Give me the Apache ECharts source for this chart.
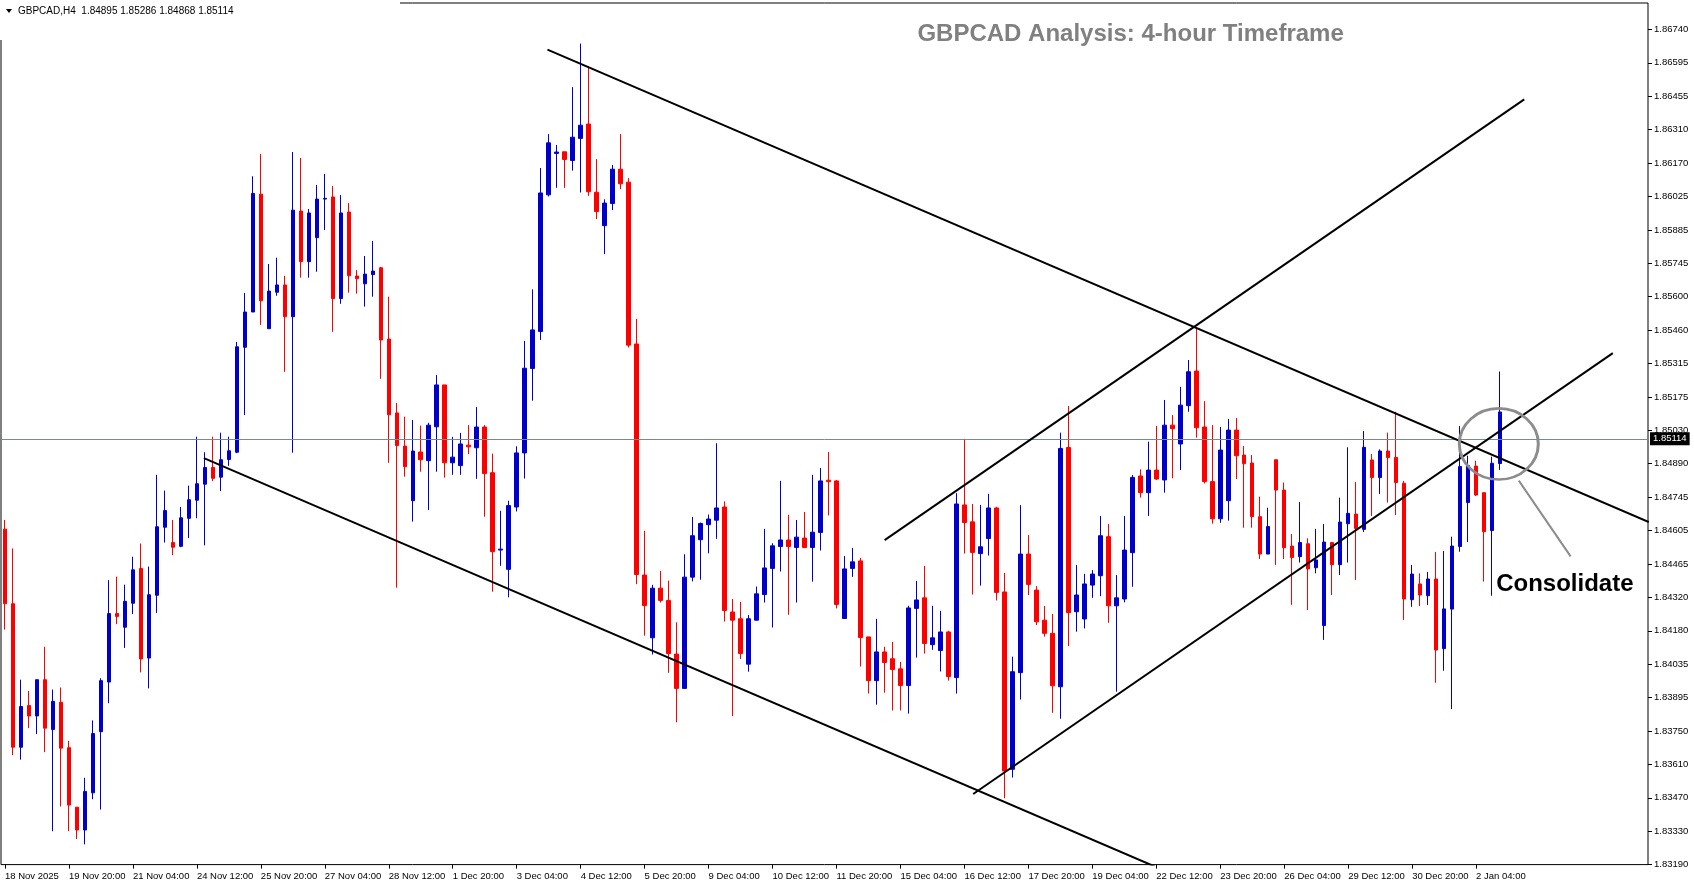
<!DOCTYPE html>
<html>
<head>
<meta charset="utf-8">
<title>GBPCAD H4</title>
<style>
html, body { margin: 0; padding: 0; background: #fff; }
#main { width: 1694px; height: 888px; }
</style>
</head>
<body>
<div id="main"></div>
<script src="https://cdn.jsdelivr.net/npm/echarts@6/dist/echarts.min.js"></script>
<script>
// H4 bars, 18 Nov 2025 12:00 .. 2 Jan 2026 16:00
var opens = [
	1.84616,1.84299,1.83689,1.83866,1.83822,1.83976,1.83764,1.83880,1.83687,1.83434,
	1.83337,1.83495,1.83755,1.83966,1.84257,1.84199,1.84301,1.84449,1.84068,1.84335,
	1.84624,1.84559,1.84543,1.84662,1.84739,1.84807,1.84878,1.84837,1.84912,1.84943,
	1.85389,1.85539,1.86040,1.85468,1.85623,1.85654,1.85519,1.85968,1.85753,1.85855,
	1.86019,1.86028,1.85596,1.85964,1.85692,1.85659,1.85698,1.85727,1.85424,1.85110,
	1.84969,1.84737,1.84944,1.84907,1.85051,1.85229,1.84898,1.84886,1.84973,1.84962,
	1.85050,1.84856,1.84527,1.84445,1.84710,1.84940,1.85299,1.85456,1.86037,1.86213,
	1.86220,1.86183,1.86277,1.86338,1.86048,1.85906,1.86000,1.86146,1.86091,1.85403,
	1.84421,1.84154,1.84365,1.84313,1.84085,1.83939,1.84412,1.84571,1.84635,1.84654,
	1.84710,1.84264,1.84235,1.84042,1.84229,1.84338,1.84449,1.84542,1.84570,1.84538,
	1.84578,1.84538,1.84602,1.84824,1.84821,1.84236,1.84449,1.84481,1.84158,1.83972,
	1.84094,1.84065,1.84022,1.83951,1.84279,1.84324,1.84125,1.84100,1.84179,1.83985,
	1.84719,1.84647,1.84512,1.84576,1.84706,1.84349,1.83595,1.84006,1.84510,1.84357,
	1.84229,1.84173,1.83946,1.84963,1.84265,1.84234,1.84378,1.84418,1.84584,1.84290,
	1.84319,1.84516,1.84842,1.84771,1.84867,1.84825,1.85058,1.84978,1.85141,1.85288,
	1.85050,1.84818,1.84660,1.84737,1.85037,1.84931,1.84897,1.84669,1.84510,1.84911,
	1.84782,1.84544,1.84499,1.84554,1.84452,1.84206,1.84559,1.84465,1.84639,1.84680,
	1.84615,1.84910,1.84835,1.84948,1.84921,1.84811,1.84316,1.84383,1.84333,1.84404,
	1.84108,1.84276,1.84542,1.84729,1.84884,1.84771,1.84610,1.84895
];
var highs = [
	1.84655,1.84534,1.83976,1.83928,1.83976,1.84116,1.83934,1.83943,1.83716,1.83434,
	1.83559,1.83803,1.83982,1.84399,1.84414,1.84380,1.84499,1.84555,1.84457,1.84847,
	1.84780,1.84655,1.84710,1.84801,1.85009,1.84943,1.85009,1.85026,1.85009,1.85412,
	1.85620,1.86116,1.86210,1.85743,1.85770,1.85693,1.86219,1.86194,1.85977,1.86079,
	1.86126,1.86074,1.86036,1.86002,1.85717,1.85777,1.85841,1.85731,1.85604,1.85152,
	1.85094,1.85080,1.85056,1.85068,1.85271,1.85229,1.85008,1.85025,1.85058,1.85135,
	1.85058,1.84937,1.84694,1.84737,1.84968,1.85416,1.85635,1.86151,1.86295,1.86249,
	1.86220,1.86495,1.86680,1.86585,1.86189,1.86018,1.86164,1.86295,1.86108,1.85510,
	1.84609,1.84379,1.84438,1.84397,1.84220,1.84509,1.84668,1.84644,1.84678,1.84981,
	1.84734,1.84319,1.84307,1.84251,1.84372,1.84617,1.84556,1.84821,1.84677,1.84655,
	1.84689,1.84847,1.84876,1.84944,1.84825,1.84502,1.84536,1.84494,1.84158,1.84235,
	1.84116,1.84137,1.84052,1.84290,1.84396,1.84460,1.84290,1.84269,1.84184,1.84769,
	1.85000,1.84723,1.84719,1.84766,1.84711,1.84430,1.84074,1.84718,1.84591,1.84374,
	1.84289,1.84255,1.85026,1.85139,1.84463,1.84426,1.84442,1.84672,1.84638,1.84421,
	1.84672,1.84846,1.84870,1.84988,1.85054,1.85165,1.85101,1.85221,1.85335,1.85469,
	1.85160,1.85058,1.85050,1.85084,1.85088,1.84969,1.84931,1.84754,1.84707,1.84911,
	1.84814,1.84595,1.84731,1.84577,1.84617,1.84638,1.84559,1.84750,1.84964,1.84816,
	1.85033,1.84935,1.84955,1.85026,1.85115,1.84821,1.84464,1.84428,1.84434,1.84519,
	1.84523,1.84584,1.85054,1.84928,1.84907,1.84771,1.84924,1.85286
];
var lows = [
	1.84189,1.83655,1.83636,1.83770,1.83745,1.83668,1.83332,1.83437,1.83332,1.83299,
	1.83276,1.83468,1.83424,1.83876,1.84212,1.84111,1.84255,1.84007,1.83939,1.84260,
	1.84559,1.84505,1.84539,1.84578,1.84662,1.84547,1.84820,1.84778,1.84885,1.84939,
	1.85101,1.85539,1.85484,1.85468,1.85608,1.85285,1.84941,1.85685,1.85685,1.85710,
	1.85887,1.85455,1.85574,1.85621,1.85617,1.85562,1.85604,1.85255,1.84898,1.84367,
	1.84839,1.84648,1.84860,1.84697,1.84860,1.84835,1.84847,1.84847,1.84935,1.84830,
	1.84669,1.84350,1.84460,1.84326,1.84691,1.84831,1.85162,1.85420,1.86030,1.86067,
	1.86067,1.86140,1.86047,1.86033,1.85934,1.85785,1.85972,1.86061,1.85388,1.84382,
	1.84163,1.84083,1.84304,1.84005,1.83795,1.83939,1.84394,1.84401,1.84513,1.84575,
	1.84223,1.83821,1.84064,1.84010,1.84228,1.84304,1.84198,1.84436,1.84252,1.84304,
	1.84535,1.84393,1.84525,1.84674,1.84279,1.84236,1.84413,1.84032,1.83917,1.83870,
	1.83921,1.83845,1.83845,1.83832,1.84070,1.84087,1.84103,1.84011,1.83972,1.83917,
	1.84512,1.84338,1.84376,1.84504,1.84313,1.83472,1.83560,1.83892,1.84336,1.84208,
	1.84159,1.83835,1.83810,1.84119,1.84180,1.84194,1.84324,1.84331,1.84218,1.83925,
	1.84305,1.84371,1.84750,1.84672,1.84825,1.84771,1.84832,1.84867,1.85115,1.85005,
	1.84810,1.84639,1.84643,1.84652,1.84829,1.84622,1.84622,1.84489,1.84510,1.84464,
	1.84489,1.84294,1.84474,1.84272,1.84428,1.84145,1.84336,1.84421,1.84474,1.84400,
	1.84604,1.84672,1.84765,1.84729,1.84676,1.84230,1.84286,1.84289,1.84294,1.83963,
	1.84014,1.83851,1.84520,1.84561,1.84757,1.84393,1.84333,1.84868
];
var closes = [
	1.84299,1.83689,1.83862,1.83822,1.83976,1.83770,1.83884,1.83685,1.83443,1.83337,
	1.83501,1.83747,1.83972,1.84257,1.84245,1.84309,1.84443,1.84064,1.84337,1.84626,
	1.84695,1.84539,1.84664,1.84741,1.84809,1.84878,1.84832,1.84911,1.84949,1.85391,
	1.85539,1.86043,1.85587,1.85628,1.85654,1.85519,1.85972,1.85753,1.85960,1.86019,
	1.86022,1.85596,1.85960,1.85693,1.85681,1.85700,1.85713,1.85420,1.85102,1.84971,
	1.84881,1.84948,1.84911,1.85058,1.85229,1.84898,1.84922,1.84978,1.84966,1.85050,
	1.84852,1.84520,1.84531,1.84716,1.84940,1.85300,1.85463,1.86045,1.86258,1.86219,
	1.86187,1.86282,1.86333,1.86050,1.85966,1.86002,1.86146,1.86084,1.85398,1.84423,
	1.84291,1.84365,1.84313,1.84087,1.83939,1.84412,1.84588,1.84640,1.84659,1.84706,
	1.84270,1.84229,1.84087,1.84235,1.84341,1.84451,1.84545,1.84570,1.84542,1.84582,
	1.84538,1.84603,1.84821,1.84818,1.84296,1.84447,1.84477,1.84155,1.83972,1.84094,
	1.84049,1.84019,1.83951,1.84281,1.84315,1.84130,1.84154,1.84179,1.83989,1.84723,
	1.84644,1.84517,1.84541,1.84706,1.84347,1.83588,1.84010,1.84510,1.84381,1.84222,
	1.84173,1.83950,1.84959,1.84261,1.84336,1.84383,1.84425,1.84588,1.84290,1.84324,
	1.84527,1.84836,1.84771,1.84867,1.84829,1.85058,1.85043,1.85143,1.85285,1.85047,
	1.84818,1.84660,1.84952,1.85037,1.84928,1.84894,1.84669,1.84510,1.84627,1.84782,
	1.84537,1.84495,1.84559,1.84447,1.84485,1.84561,1.84465,1.84646,1.84683,1.84619,
	1.84964,1.84835,1.84948,1.84920,1.84814,1.84319,1.84425,1.84336,1.84404,1.84102,
	1.84277,1.84544,1.84882,1.84886,1.84761,1.84605,1.84896,1.85114
];

// one label every 8 bars, starting at bar 0
var xTickLabels = ['18 Nov 2025','19 Nov 20:00','21 Nov 04:00','24 Nov 12:00','25 Nov 20:00','27 Nov 04:00',
	'28 Nov 12:00','1 Dec 20:00','3 Dec 04:00','4 Dec 12:00','5 Dec 20:00','9 Dec 04:00','10 Dec 12:00',
	'11 Dec 20:00','15 Dec 04:00','16 Dec 12:00','17 Dec 20:00','19 Dec 04:00','22 Dec 12:00','23 Dec 20:00',
	'26 Dec 04:00','29 Dec 12:00','30 Dec 20:00','2 Jan 04:00'];
// price scale labels, bottom to top, one every 0.00142
var yTickLabels = ['1.83190','1.83330','1.83470','1.83610','1.83750','1.83895','1.84035','1.84180','1.84320',
	'1.84465','1.84605','1.84745','1.84890','1.85030','1.85175','1.85315','1.85460','1.85600','1.85745',
	'1.85885','1.86025','1.86170','1.86310','1.86455','1.86595','1.86740'];

// drawn lines, [bar index, price]
var lineDownUpper = [[67.85, 1.86654], [205.6, 1.84646]];
var lineDownLower = [[24.88, 1.84918], [143.8, 1.83182]];
var lineUpUpper = [[110.02, 1.84569], [190.02, 1.86443]];
var lineUpLower = [[121.1, 1.83490], [201.1, 1.85364]];
var pointerLine = [[189.34, 1.84822], [195.82, 1.84500]];
var circleAt = [186.84, 1.84978];
var noteAt = [195.1, 1.84381];

var slots = 206;          // bars plus the empty shift on the right
var tickStep = 8;
var priceMin = 1.8319, priceMax = 1.868525, priceStep = 0.00142;
var font = "'Liberation Sans', Arial, sans-serif";
var bull = '#0000cc', bear = '#ff0000';

var cats = [];
for (var i = 0; i < slots; i++) cats.push(String(i));
var candles = [];
for (var i = 0; i < opens.length; i++) candles.push([opens[i], closes[i], lows[i], highs[i]]);
var last = opens.length - 1;

function trend(name, pts, color, width) {
	return {
		name: name, type: 'line', xAxisIndex: 1, yAxisIndex: 0,
		data: pts, symbol: 'none', silent: true, clip: true, z: 5,
		lineStyle: { color: color, width: width }
	};
}
function showX(idx) { return idx % tickStep === 0 && idx / tickStep < xTickLabels.length; }

var myChart = echarts.init(document.getElementById('main'));
var option = {
	animation: false,
	backgroundColor: '#fff',
	grid: { left: 1, right: 46, top: 3, bottom: 23.4, show: true, borderColor: '#000', borderWidth: 1, backgroundColor: '#fff' },
	xAxis: [{
		type: 'category', data: cats, boundaryGap: true,
		axisLine: { show: false },
		axisTick: { show: true, alignWithLabel: true, length: 4, lineStyle: { color: '#000' }, interval: showX },
		axisLabel: {
			color: '#000', fontSize: 9.5, fontFamily: font, align: 'left', margin: 7, interval: showX,
			formatter: function (v, idx) { return xTickLabels[idx / tickStep] || ''; }
		},
		splitLine: { show: false }
	}, {
		type: 'value', min: -0.5, max: slots - 0.5, show: false
	}],
	yAxis: [{
		type: 'value', min: priceMin, max: priceMax, show: false, splitLine: { show: false }
	}, {
		// label scale: one unit per price label step
		type: 'value', position: 'right', min: 0, max: (priceMax - priceMin) / priceStep, interval: 1,
		axisLine: { show: false },
		axisTick: { show: true, length: 4, lineStyle: { color: '#000' } },
		axisLabel: {
			color: '#000', fontSize: 9.5, fontFamily: font, margin: 6, showMaxLabel: false,
			formatter: function (v) { return Math.abs(v - Math.round(v)) < 1e-6 ? (yTickLabels[Math.round(v)] || '') : ''; }
		},
		splitLine: { show: false }
	}],
	series: [{
		name: 'GBPCAD', type: 'candlestick', data: candles, barWidth: 4, z: 3,
		itemStyle: { color: bull, color0: bear, borderColor: bull, borderColor0: bear, borderColorDoji: bull, borderWidth: 1 },
		markLine: {
			silent: true, symbol: 'none', animation: false,
			lineStyle: { color: '#778899', width: 1, type: 'solid' },
			label: {
				show: true, position: 'end', distance: 2, formatter: closes[last].toFixed(5),
				backgroundColor: '#000', color: '#fff', fontSize: 9.5, fontFamily: font, padding: [2, 3, 1, 3]
			},
			data: [{ yAxis: closes[last] }]
		}
	},
	trend('down upper', lineDownUpper, '#000', 2),
	trend('down lower', lineDownLower, '#000', 2),
	trend('up upper', lineUpUpper, '#000', 2),
	trend('up lower', lineUpLower, '#000', 2),
	trend('pointer', pointerLine, '#8c8c8c', 2)]
};
myChart.setOption(option);

var c = myChart.convertToPixel({ xAxisIndex: 1, yAxisIndex: 0 }, circleAt);
var n = myChart.convertToPixel({ xAxisIndex: 1, yAxisIndex: 0 }, noteAt);
myChart.setOption({
	graphic: [
		{ type: 'rect', shape: { x: 0, y: 0, width: 400, height: 40 }, style: { fill: '#fff' }, z: 50 },
		{ type: 'polygon', shape: { points: [[6, 9], [12, 9], [9, 13]] }, style: { fill: '#000' }, z: 51 },
		{ type: 'text', x: 18, y: 11, z: 51, style: {
			text: 'GBPCAD,H4  ' + opens[last].toFixed(5) + ' ' + highs[last].toFixed(5) + ' ' + lows[last].toFixed(5) + ' ' + closes[last].toFixed(5),
			font: '10px ' + font, fill: '#000', verticalAlign: 'middle' } },
		{ type: 'text', x: 1130.6, y: 34.6, z: 51, style: {
			text: 'GBPCAD Analysis: 4-hour Timeframe', font: 'bold 24px ' + font, fill: '#808080',
			align: 'center', verticalAlign: 'middle' } },
		{ type: 'circle', x: c[0], y: c[1], scaleY: 0.9, shape: { cx: 0, cy: 0, r: 39.5 }, z: 51,
			style: { fill: 'none', stroke: '#8c8c8c', lineWidth: 3 } },
		{ type: 'text', x: n[0], y: n[1], z: 51, style: {
			text: 'Consolidate', font: 'bold 24px ' + font, fill: '#000', align: 'center', verticalAlign: 'middle' } }
	]
});
</script>
</body>
</html>
